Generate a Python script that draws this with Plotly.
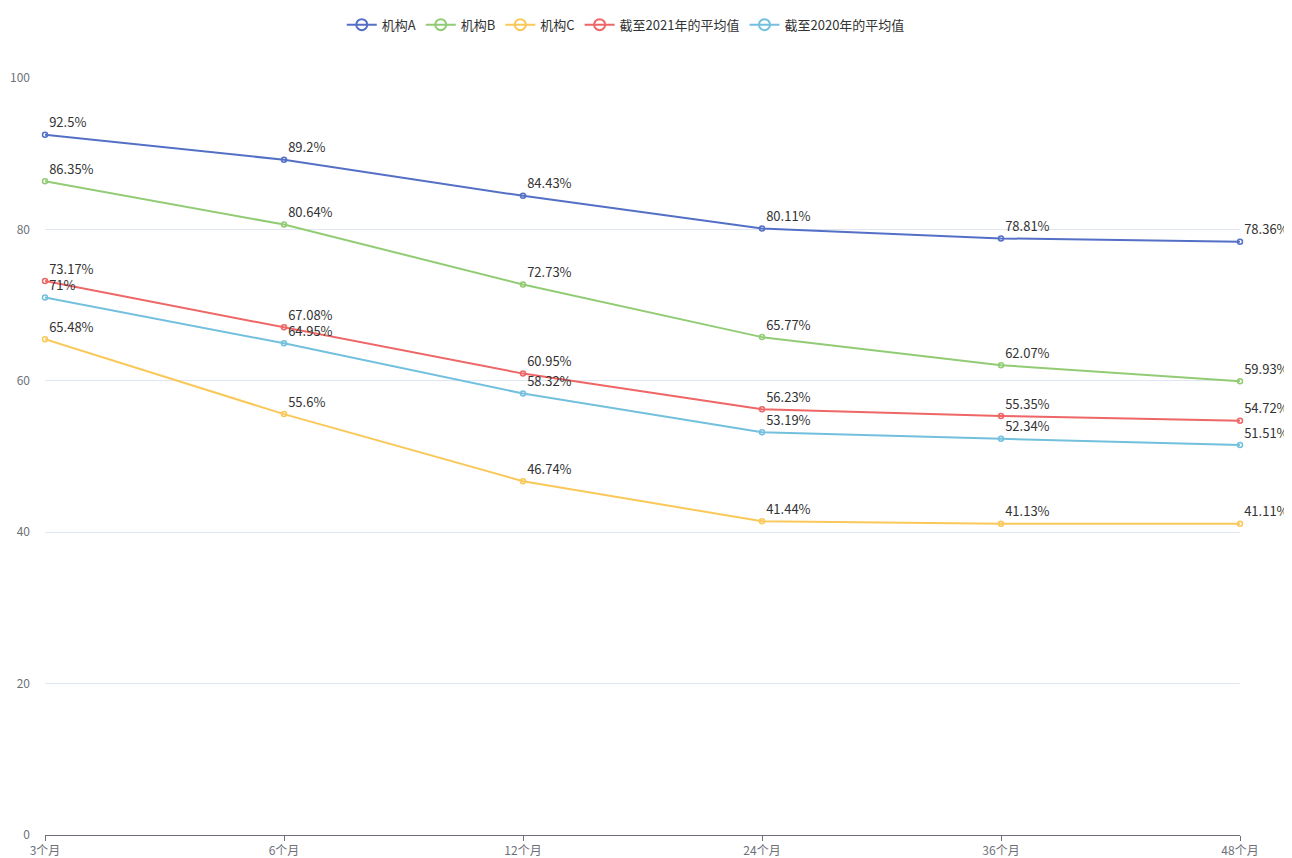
import plotly.graph_objects as go

categories = ["3个月", "6个月", "12个月", "24个月", "36个月", "48个月"]
series_names = ["机构A", "机构B", "机构C", "截至2021年的平均值", "截至2020年的平均值"]
org_a = [92.5, 89.2, 84.43, 80.11, 78.81, 78.36]
org_b = [86.35, 80.64, 72.73, 65.77, 62.07, 59.93]
org_c = [65.48, 55.6, 46.74, 41.44, 41.13, 41.11]
avg_2021 = [73.17, 67.08, 60.95, 56.23, 55.35, 54.72]
avg_2020 = [71, 64.95, 58.32, 53.19, 52.34, 51.51]
colors = ["#5470c6", "#91cc75", "#fac858", "#ee6666", "#73c0de"]

FONT = "Noto Sans CJK SC, Noto Sans, sans-serif"

def fmt(v):
    s = ("%.2f" % v).rstrip("0").rstrip(".")
    return s + "%"

fig = go.Figure()
for name, vals, col in zip(series_names, [org_a, org_b, org_c, avg_2021, avg_2020], colors):
    fig.add_trace(go.Scatter(
        x=categories, y=vals, name=name, mode="lines+markers+text",
        line=dict(color=col, width=2),
        marker=dict(symbol="circle-open", size=5, color=col, line=dict(width=1.5, color=col)),
        text=[fmt(v) for v in vals], textposition="top right",
        textfont=dict(size=13, color="#333333", family=FONT),
        cliponaxis=False, showlegend=False, legendgroup=name,
    ))
# legend entries with larger symbols
for name, col in zip(series_names, colors):
    fig.add_trace(go.Scatter(
        x=[None], y=[None], name=name, mode="lines+markers", legendgroup=name,
        line=dict(color=col, width=2),
        marker=dict(symbol="circle-open", size=11, color=col, line=dict(width=2, color=col)),
        showlegend=True,
    ))

# page body has an 8px margin, so the figure is drawn 8px right/down
fig.update_layout(
    width=1284, height=850,
    margin=dict(l=37, r=52, t=70, b=23, autoexpand=False),
    paper_bgcolor="white", plot_bgcolor="white",
    font=dict(family=FONT, size=12, color="#6E7079"),
    showlegend=True,
    legend=dict(orientation="h", x=0.486, xanchor="center", yref="container", y=0.998, yanchor="top",
                font=dict(size=13, color="#333333", family=FONT), itemwidth=30,
                traceorder="normal"),
    xaxis=dict(type="category", range=[0, 5], showgrid=False, showline=True, linecolor="#6E7079",
               linewidth=1, ticks="outside", ticklen=5, tickcolor="#6E7079", automargin=False,
               tickfont=dict(size=12, color="#6E7079"), zeroline=False),
    yaxis=dict(range=[0, 100], dtick=20, showgrid=True, gridcolor="#E0E6F1", gridwidth=1,
               showline=False, zeroline=False, ticks="", ticklabelstandoff=14, automargin=False,
               tickfont=dict(size=12, color="#6E7079")),
)

fig.write_html("out.html")
